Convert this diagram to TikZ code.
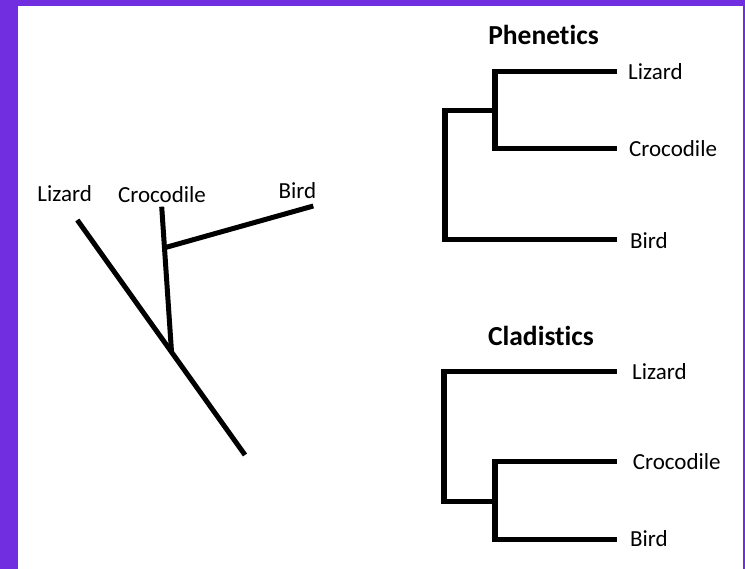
\documentclass[tikz,border=0pt]{standalone}
\usepackage{fontspec}
\setmainfont{Carlito}[Ligatures={NoCommon}]
\definecolor{framepurple}{RGB}{112,46,224}
\tikzset{
  branch/.style={line width=5.4pt, line cap=butt, line join=miter},
  lbranch/.style={line width=5pt, line cap=butt},
  taxon/.style={inner sep=0pt, anchor=base west, font=\fontsize{23}{27}\selectfont},
  ltaxon/.style={inner sep=0pt, anchor=base, font=\fontsize{23}{27}\selectfont},
  heading/.style={inner sep=0pt, anchor=base, font=\fontsize{27.5}{31}\selectfont\bfseries}
}
\begin{document}
\begin{tikzpicture}[x=1pt,y=-1pt]
\useasboundingbox (0,0) rectangle (745,569);
\fill[framepurple] (0,0) rectangle (745,569);
\fill[white] (18,6) rectangle (743,569);

% ---- left tree
\coordinate (lzTop) at (77.3,220);
\coordinate (lzBot) at (245,455);
\coordinate (crTop) at (161.7,206.7);
\coordinate (crJn) at (171.5,351.7);
\coordinate (bdJn) at (166.2,247.3);
\coordinate (bdTop) at (313.3,206);
\draw[lbranch] (lzTop) -- (lzBot);
\draw[lbranch] (crTop) -- (crJn);
\draw[lbranch] (bdJn) -- (bdTop);
\node[ltaxon] (lzL) at (64.7,202) {Lizard};
\node[ltaxon] (crL) at (162,202.5) {Crocodile};
\node[ltaxon] (bdL) at (297.5,199) {Bird};

% ---- Phenetics
\node[heading] (phen) at (543.5,45) {Phenetics};
\node[taxon] (pLz) at (628,80) {Lizard};
\node[taxon] (pCr) at (629,157) {Crocodile};
\node[taxon] (pBd) at (630,249) {Bird};
\coordinate (pLzE) at (617,71.7);
\coordinate (pCrE) at (617,148.3);
\coordinate (pBdE) at (617,239.3);
\coordinate (pIn) at (495,110.7);
\coordinate (pOut) at (445,110.7);
\draw[branch] (pLzE) -- (pLzE -| pIn) -- (pCrE -| pIn) -- (pCrE);
\draw[branch] (pIn) -- (pOut) -- (pBdE -| pOut) -- (pBdE);

% ---- Cladistics
\node[heading] (clad) at (541,346) {Cladistics};
\node[taxon] (cLz) at (632,380) {Lizard};
\node[taxon] (cCr) at (632.7,470) {Crocodile};
\node[taxon] (cBd) at (630,546.7) {Bird};
\coordinate (cLzE) at (617,371.7);
\coordinate (cCrE) at (617,461.7);
\coordinate (cBdE) at (617,539.3);
\coordinate (cIn) at (495,501.7);
\coordinate (cOut) at (444,501.7);
\draw[branch] (cCrE) -- (cCrE -| cIn) -- (cBdE -| cIn) -- (cBdE);
\draw[branch] (cIn) -- (cOut) -- (cLzE -| cOut) -- (cLzE);
\end{tikzpicture}
\end{document}
